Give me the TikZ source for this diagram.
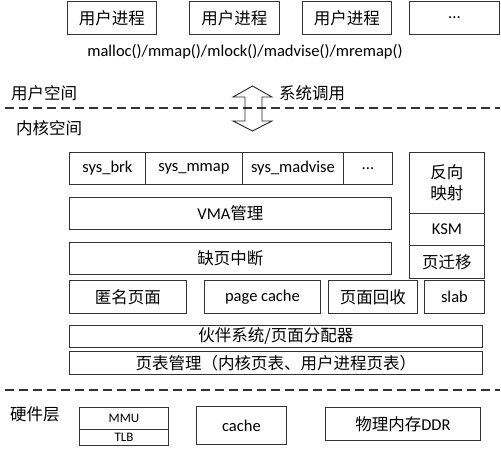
\documentclass[tikz,border=0pt]{standalone}
\usepackage{fontspec}
\setmainfont{Carlito}
\newfontfamily\cjk{Noto Sans CJK SC}
\begin{document}
\begin{tikzpicture}[x=1pt,y=-1pt,
  box/.style={draw=black!80, line width=0.9pt, anchor=north west, inner sep=0pt, font=\fontsize{16.5}{18}\selectfont},
  lbl/.style={inner sep=0pt, font=\fontsize{16.5}{18}\selectfont},
  sep/.style={draw=black!80, line width=1.1pt, dash pattern=on 9pt off 5pt}]
\useasboundingbox (0,0) rectangle (501,454);
% user processes
\node[box, minimum width=89, minimum height=33] (p1) at (67,1) {\cjk 用户进程};
\node[box, minimum width=90, minimum height=33] (p2) at (189,1) {\cjk 用户进程};
\node[box, minimum width=89, minimum height=33] (p3) at (302,1) {\cjk 用户进程};
\node[box, minimum width=90, minimum height=33] (p4) at (409,1) {...};
\node[lbl, font=\fontsize{16.5}{18}\selectfont] (calls) at (245,52) {malloc()/mmap()/mlock()/madvise()/mremap()};
% separators
\node[lbl, anchor=west] (us) at (11,93) {\cjk 用户空间};
\node[lbl, anchor=west] (ks) at (16,128) {\cjk 内核空间};
\node[lbl, anchor=west] (sc) at (279,93) {\cjk 系统调用};
\coordinate (d1a) at (5,108);
\coordinate (d1b) at (500,108);
\draw[sep] (d1a) -- (d1b);
% double arrow
\draw[black!85, line width=0.9pt] (252.5,86) -- (233,97) -- (245,97) -- (245,121) -- (233,121) -- (252.5,131) -- (272,121) -- (262,121) -- (262,97) -- (272,97) -- cycle;
% syscalls row
\node[box, minimum width=76, minimum height=32] (brk) at (69,152) {sys\_brk};
\node[box, minimum width=97, minimum height=32] (mmap) at (145,152) {sys\_mmap};
\node[box, minimum width=101, minimum height=32] (madv) at (242,152) {sys\_madvise};
\node[box, minimum width=49, minimum height=32] (dots) at (343,152) {...};
% right column
\node[box, minimum width=75, minimum height=61, align=center, font=\fontsize{16.5}{21}\selectfont] (rmap) at (409,152) {\cjk 反向\\\cjk 映射};
\node[box, minimum width=75, minimum height=32] (ksm) at (409,213) {KSM};
\node[box, minimum width=75, minimum height=33] (mig) at (409,245) {\cjk 页迁移};
% VMA & fault
\node[box, minimum width=322, minimum height=32] (vma) at (69,197) {VMA{\cjk 管理}};
\node[box, minimum width=322, minimum height=32] (fault) at (69,242) {\cjk 缺页中断};
% row
\node[box, minimum width=117, minimum height=33] (anon) at (69,280) {\cjk 匿名页面};
\node[box, minimum width=116, minimum height=33] (pc) at (204,280) {page cache};
\node[box, minimum width=89, minimum height=33] (recl) at (328,280) {\cjk 页面回收};
\node[box, minimum width=60, minimum height=33] (slab) at (424,280) {slab};
% buddy & page tables
\node[box, minimum width=413, minimum height=22] (buddy) at (69,325) {\cjk 伙伴系统/页面分配器};
\node[box, minimum width=413, minimum height=23] (pt) at (69,351) {\cjk 页表管理（内核页表、用户进程页表）};
% separator 2
\coordinate (d2a) at (5,390);
\coordinate (d2b) at (500,390);
\draw[sep] (d2a) -- (d2b);
% hardware
\node[lbl, anchor=west] (hw) at (10,414) {\cjk 硬件层};
\node[box, minimum width=89, minimum height=22, font=\fontsize{13}{14}\selectfont] (mmu) at (79,407) {MMU};
\node[box, minimum width=89, minimum height=16, font=\fontsize{13}{14}\selectfont] (tlb) at (79,429) {TLB};
\node[box, minimum width=90, minimum height=38] (cache) at (196,406) {cache};
\node[box, minimum width=155, minimum height=33] (ddr) at (325,407) {{\cjk 物理内存}DDR};
\end{tikzpicture}
\end{document}
